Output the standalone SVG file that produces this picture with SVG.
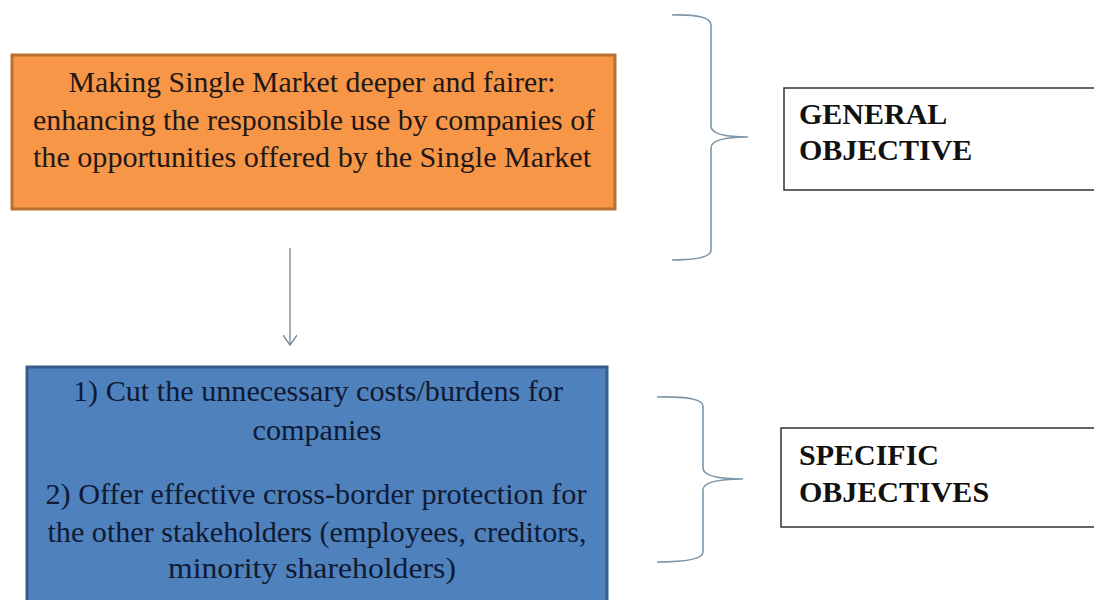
<svg xmlns="http://www.w3.org/2000/svg" width="1094" height="600" viewBox="0 0 1094 600">
<style>
.t{font-family:'Liberation Serif','Times New Roman',serif;font-size:30px;fill:#1e1818;text-anchor:middle}
.tb{fill:#101a33}
.lbl{font-family:'Liberation Serif','Times New Roman',serif;font-size:30px;font-weight:bold;fill:#111}
.br{fill:none;stroke:#7d97a8;stroke-width:1.6}
.lb{fill:#fff;stroke:#333;stroke-width:1.5}
</style>
<defs>
<marker id="ah" markerWidth="14" markerHeight="14" refX="10" refY="7" orient="auto" markerUnits="userSpaceOnUse">
<path d="M0,0 L10,7 L0,14" fill="none" stroke="#6f8295" stroke-width="1.3"/>
</marker>
</defs>
<rect width="1094" height="600" fill="#fff"/>
<g id="general-box">
<rect x="12" y="55" width="603" height="154" fill="#f79646" stroke="#b5712f" stroke-width="3"/>
<text class="t" x="312" y="92" textLength="487" lengthAdjust="spacingAndGlyphs">Making Single Market deeper and fairer:</text>
<text class="t" x="314" y="130" textLength="562" lengthAdjust="spacingAndGlyphs">enhancing the responsible use by companies of</text>
<text class="t" x="312" y="167" textLength="558" lengthAdjust="spacingAndGlyphs">the opportunities offered by the Single Market</text>
</g>
<g id="specific-box">
<rect x="27" y="367" width="580" height="240" fill="#4f81bd" stroke="#385d8a" stroke-width="3"/>
<text class="t tb" x="318" y="401" textLength="490" lengthAdjust="spacingAndGlyphs">1) Cut the unnecessary costs/burdens for</text>
<text class="t tb" x="317" y="440" textLength="129" lengthAdjust="spacingAndGlyphs">companies</text>
<text class="t tb" x="316" y="504" textLength="541" lengthAdjust="spacingAndGlyphs">2) Offer effective cross-border protection for</text>
<text class="t tb" x="317" y="542" textLength="539" lengthAdjust="spacingAndGlyphs">the other stakeholders (employees, creditors,</text>
<text class="t tb" x="312" y="578" textLength="288" lengthAdjust="spacingAndGlyphs">minority shareholders)</text>
</g>
<g id="general-label">
<rect x="784" y="88" width="320" height="102" class="lb"/>
<text class="lbl" x="799" y="124">GENERAL</text>
<text class="lbl" x="799" y="160">OBJECTIVE</text>
</g>
<g id="specific-label">
<rect x="781" y="428" width="320" height="99" class="lb"/>
<text class="lbl" x="799" y="465">SPECIFIC</text>
<text class="lbl" x="799" y="502">OBJECTIVES</text>
</g>
<g id="connectors">
<line x1="290" y1="248" x2="290" y2="345" stroke="#6f8295" stroke-width="1.3" marker-end="url(#ah)"/>
<path class="br" d="M672,15 Q711,14 711,25 L711,126 Q711,137 748,137 Q711,137 711,148 L711,250 Q711,260 672,260"/>
<path class="br" d="M657,397 Q703,396 703,406 L703,468 Q703,479 743,479 Q703,479 703,490 L703,552 Q703,562 657,562"/>
</g>
</svg>
